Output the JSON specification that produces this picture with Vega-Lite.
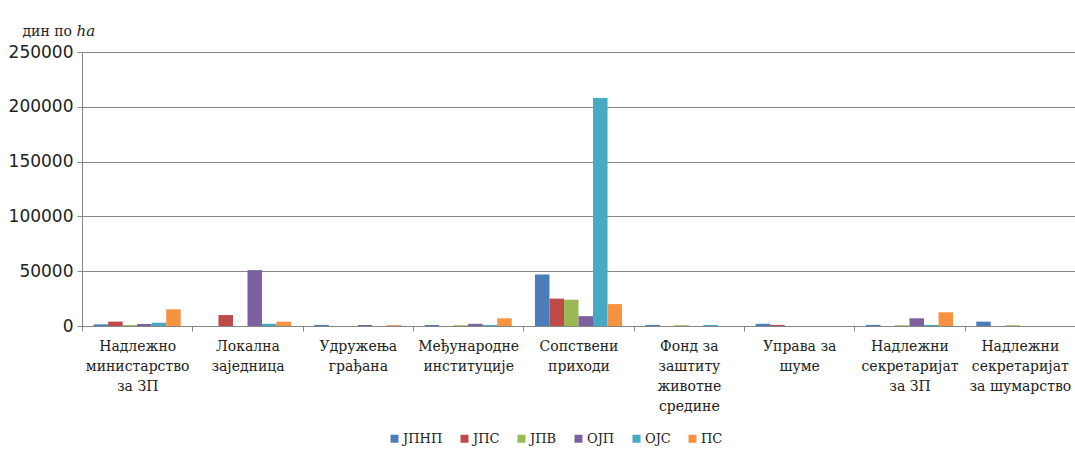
{
  "$schema": "https://vega.github.io/schema/vega-lite/v6.json",
  "width": 993,
  "height": 274,
  "autosize": {"type": "none"},
  "padding": {"left": 82, "top": 52, "right": 0, "bottom": 136},
  "background": "white",
  "data": {"values": [
    {"cat": "Надлежно|министарство|за ЗП", "series": "ЈПНП", "value": 1500},
    {"cat": "Надлежно|министарство|за ЗП", "series": "ЈПС", "value": 4000},
    {"cat": "Надлежно|министарство|за ЗП", "series": "ЈПВ", "value": 800},
    {"cat": "Надлежно|министарство|за ЗП", "series": "ОЈП", "value": 1800},
    {"cat": "Надлежно|министарство|за ЗП", "series": "ОЈС", "value": 3000},
    {"cat": "Надлежно|министарство|за ЗП", "series": "ПС", "value": 15200},
    {"cat": "Локална|заједница", "series": "ЈПНП", "value": 0},
    {"cat": "Локална|заједница", "series": "ЈПС", "value": 10000},
    {"cat": "Локална|заједница", "series": "ЈПВ", "value": 0},
    {"cat": "Локална|заједница", "series": "ОЈП", "value": 51000},
    {"cat": "Локална|заједница", "series": "ОЈС", "value": 2000},
    {"cat": "Локална|заједница", "series": "ПС", "value": 4000},
    {"cat": "Удружења|грађана", "series": "ЈПНП", "value": 1000},
    {"cat": "Удружења|грађана", "series": "ЈПС", "value": 0},
    {"cat": "Удружења|грађана", "series": "ЈПВ", "value": 0},
    {"cat": "Удружења|грађана", "series": "ОЈП", "value": 900},
    {"cat": "Удружења|грађана", "series": "ОЈС", "value": 0},
    {"cat": "Удружења|грађана", "series": "ПС", "value": 800},
    {"cat": "Међународне|институције", "series": "ЈПНП", "value": 900},
    {"cat": "Међународне|институције", "series": "ЈПС", "value": 0},
    {"cat": "Међународне|институције", "series": "ЈПВ", "value": 700},
    {"cat": "Међународне|институције", "series": "ОЈП", "value": 2000},
    {"cat": "Међународне|институције", "series": "ОЈС", "value": 1000},
    {"cat": "Међународне|институције", "series": "ПС", "value": 7000},
    {"cat": "Сопствени|приходи", "series": "ЈПНП", "value": 47000},
    {"cat": "Сопствени|приходи", "series": "ЈПС", "value": 25000},
    {"cat": "Сопствени|приходи", "series": "ЈПВ", "value": 24000},
    {"cat": "Сопствени|приходи", "series": "ОЈП", "value": 9000},
    {"cat": "Сопствени|приходи", "series": "ОЈС", "value": 208000},
    {"cat": "Сопствени|приходи", "series": "ПС", "value": 20000},
    {"cat": "Фонд за|заштиту|животне|средине", "series": "ЈПНП", "value": 1000},
    {"cat": "Фонд за|заштиту|животне|средине", "series": "ЈПС", "value": 0},
    {"cat": "Фонд за|заштиту|животне|средине", "series": "ЈПВ", "value": 700},
    {"cat": "Фонд за|заштиту|животне|средине", "series": "ОЈП", "value": 0},
    {"cat": "Фонд за|заштиту|животне|средине", "series": "ОЈС", "value": 1000},
    {"cat": "Фонд за|заштиту|животне|средине", "series": "ПС", "value": 0},
    {"cat": "Управа за|шуме", "series": "ЈПНП", "value": 2000},
    {"cat": "Управа за|шуме", "series": "ЈПС", "value": 1000},
    {"cat": "Управа за|шуме", "series": "ЈПВ", "value": 0},
    {"cat": "Управа за|шуме", "series": "ОЈП", "value": 0},
    {"cat": "Управа за|шуме", "series": "ОЈС", "value": 0},
    {"cat": "Управа за|шуме", "series": "ПС", "value": 0},
    {"cat": "Надлежни|секретаријат|за ЗП", "series": "ЈПНП", "value": 1000},
    {"cat": "Надлежни|секретаријат|за ЗП", "series": "ЈПС", "value": 0},
    {"cat": "Надлежни|секретаријат|за ЗП", "series": "ЈПВ", "value": 700},
    {"cat": "Надлежни|секретаријат|за ЗП", "series": "ОЈП", "value": 7000},
    {"cat": "Надлежни|секретаријат|за ЗП", "series": "ОЈС", "value": 1000},
    {"cat": "Надлежни|секретаријат|за ЗП", "series": "ПС", "value": 12500},
    {"cat": "Надлежни|секретаријат|за шумарство", "series": "ЈПНП", "value": 4000},
    {"cat": "Надлежни|секретаријат|за шумарство", "series": "ЈПС", "value": 0},
    {"cat": "Надлежни|секретаријат|за шумарство", "series": "ЈПВ", "value": 700},
    {"cat": "Надлежни|секретаријат|за шумарство", "series": "ОЈП", "value": 0},
    {"cat": "Надлежни|секретаријат|за шумарство", "series": "ОЈС", "value": 0},
    {"cat": "Надлежни|секретаријат|за шумарство", "series": "ПС", "value": 0}
  ]},
  "layer": [
    {
      "mark": {"type": "bar"},
      "encoding": {
        "x": {
          "field": "cat", "type": "nominal", "sort": null,
          "scale": {"paddingInner": 0, "paddingOuter": 0},
          "axis": {
            "title": null,
            "labelAngle": 0,
            "labelExpr": "split(datum.label, '|')",
            "labelFont": "DejaVu Serif",
            "labelFontSize": 14,
            "labelLineHeight": 20,
            "labelColor": "#222222",
            "labelOverlap": false,
            "labelLimit": 0,
            "labelBound": false,
            "labelFlush": false,
            "labelPadding": 8,
            "labelBaseline": "top",
            "tickBand": "extent",
            "tickSize": 5,
            "tickColor": "#868686",
            "domainColor": "#868686",
            "grid": false
          }
        },
        "xOffset": {
          "field": "series", "type": "nominal",
          "sort": ["ЈПНП", "ЈПС", "ЈПВ", "ОЈП", "ОЈС", "ПС"],
          "scale": {"paddingOuter": 0.8, "paddingInner": 0}
        },
        "y": {
          "field": "value", "type": "quantitative",
          "scale": {"domain": [0, 250000], "nice": false},
          "axis": {
            "orient": "left",
            "values": [0, 50000, 100000, 150000, 200000, 250000],
            "format": "d",
            "labelFont": "DejaVu Sans",
            "labelFontSize": 17,
            "labelColor": "#222222",
            "labelPadding": 4,
            "tickSize": 5,
            "tickColor": "#868686",
            "domainColor": "#868686",
            "gridColor": "#868686",
            "gridOpacity": 1,
            "title": "дин по",
            "titleFont": "DejaVu Serif",
            "titleFontSize": 14,
            "titleFontWeight": "normal",
            "titleColor": "#222222",
            "titleAngle": 0,
            "titleAlign": "left",
            "titleBaseline": "alphabetic",
            "titleX": -60,
            "titleY": -17
          }
        },
        "color": {
          "field": "series", "type": "nominal",
          "scale": {
            "domain": ["ЈПНП", "ЈПС", "ЈПВ", "ОЈП", "ОЈС", "ПС"],
            "range": ["#4A7EBB", "#BE4B48", "#98B954", "#7D60A0", "#46AAC5", "#F69240"]
          },
          "legend": {
            "title": null,
            "orient": "none",
            "direction": "horizontal",
            "legendX": 306,
            "legendY": 380,
            "symbolType": "square",
            "symbolSize": 64,
            "symbolStrokeWidth": 0,
            "labelFont": "DejaVu Serif",
            "labelFontSize": 13,
            "labelColor": "#222222",
            "labelOffset": 2,
            "columnPadding": 15
          }
        }
      }
    },
    {
      "mark": {"type": "rule", "opacity": 0},
      "encoding": {
        "y": {
          "datum": 0, "type": "quantitative",
          "axis": {
            "orient": "left",
            "labels": false,
            "ticks": false,
            "domain": false,
            "grid": false,
            "title": "ha",
            "titleFont": "DejaVu Serif",
            "titleFontSize": 15,
            "titleFontStyle": "italic",
            "titleFontWeight": "normal",
            "titleColor": "#222222",
            "titleAngle": 0,
            "titleAlign": "left",
            "titleBaseline": "alphabetic",
            "titleX": -6,
            "titleY": -17
          }
        }
      }
    }
  ],
  "resolve": {"axis": {"y": "independent"}},
  "config": {"view": {"stroke": null}}
}
